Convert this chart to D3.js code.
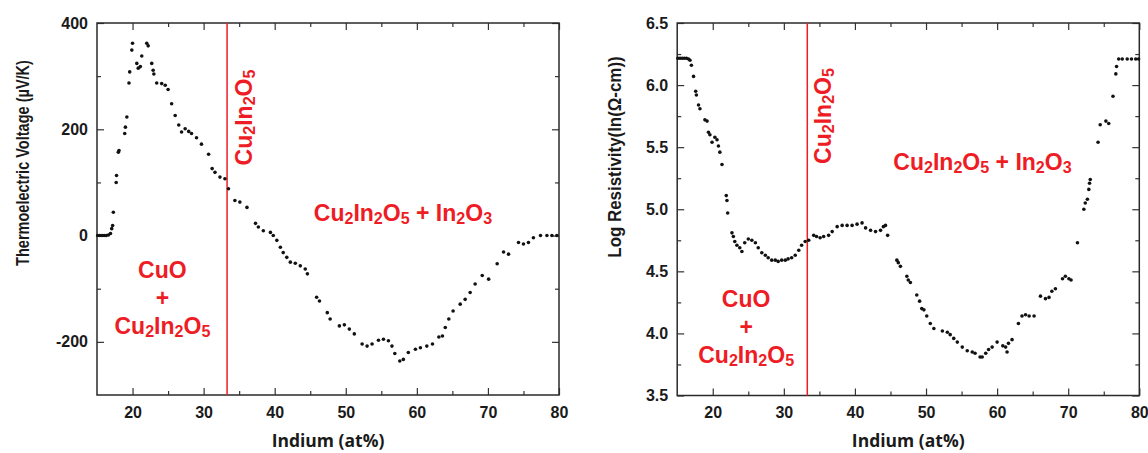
<!DOCTYPE html>
<html>
<head>
<meta charset="utf-8">
<script src="https://cdn.jsdelivr.net/npm/d3@7"></script>
<style>
  body { margin: 0; background: #fff; }
  svg { display: block; font-family: "Liberation Sans", Arial, sans-serif; }
  .tick text { font-weight: bold; font-size: 16px; fill: #1a1a1a; }
  .tick line { stroke: #333; stroke-width: 1.2; }
</style>
</head>
<body>
<svg id="chart" width="1148" height="453"></svg>
<script>
// thermoelectric voltage (left panel)
const thermoIndium = [15.1, 15.4, 15.7, 16.0, 16.3, 16.6, 16.9, 17.07, 17.2, 17.3, 17.7, 17.75, 18.0, 18.1,
  18.9, 19.0, 19.2, 19.5, 19.6, 19.9, 20.0, 20.6, 20.8, 21.1, 21.3, 22.0, 22.2, 22.7, 22.9, 23.0, 23.4,
  24.1, 24.6, 25.0, 25.5, 26.0, 26.5, 26.9, 27.4, 27.9, 28.3, 29.0, 29.7, 30.7, 31.2, 31.6, 32.3, 33.0,
  33.5, 34.4, 35.1, 36.1, 37.3, 37.7, 38.4, 39.4, 39.8, 40.3, 40.8, 41.2, 41.7, 42.2, 42.9, 43.6, 44.3,
  44.6, 45.9, 46.3, 47.4, 47.8, 49.1, 49.8, 50.5, 51.2, 52.3, 53.0, 53.7, 54.6, 55.3, 56.0, 56.5, 56.9,
  57.6, 58.1, 58.8, 59.8, 60.5, 61.4, 62.2, 63.1, 63.6, 64.0, 64.5, 65.1, 66.1, 66.8, 67.5, 68.2, 69.2,
  70.1, 71.3, 72.2, 72.9, 74.3, 75.0, 75.7, 76.4, 77.4, 78.3, 79.0, 79.7];
const thermoVoltage = [0, 0, 0, 0, 0, 1, 4, 13, 19, 44, 100, 113, 157, 160,
  192, 204, 223, 287, 308, 349, 362, 324, 315, 318, 338, 362, 357, 324, 311, 304, 287,
  286, 283, 275, 248, 226, 208, 195, 201, 196, 192, 184, 172, 153, 126, 119, 110, 107,
  88, 66, 63, 53, 23, 16, 9, 6, 0, -9, -22, -32, -41, -50, -52, -57, -63,
  -72, -116, -123, -145, -157, -170, -168, -176, -185, -204, -208, -204, -197, -195, -198, -208, -222,
  -236, -233, -220, -214, -211, -208, -204, -191, -189, -173, -157, -142, -129, -120, -107, -91, -75,
  -82, -53, -31, -35, -13, -16, -13, -4, 0, 0, 0, 0];

// log resistivity (right panel)
const resIndium = [15.1, 15.4, 15.7, 16.0, 16.3, 16.6, 16.8, 17.0, 17.3, 17.6, 17.7, 18.0, 18.2, 18.9,
  19.2, 19.4, 19.6, 19.9, 20.3, 20.6, 20.8, 21.0, 21.3, 21.9, 22.0, 22.1, 22.7, 22.9, 23.1, 23.4, 23.8,
  24.1, 24.5, 25.0, 25.5, 26.0, 26.4, 26.9, 27.4, 27.8, 28.3, 28.8, 29.2, 29.7, 30.2, 30.6, 31.1, 31.6,
  32.1, 32.5, 33.0, 33.5, 34.2, 34.6, 35.1, 35.6, 36.3, 36.8, 37.5, 38.2, 38.9, 39.6, 40.3, 41.0, 41.5,
  42.2, 42.9, 43.6, 44.0, 44.3, 44.6, 45.9, 46.1, 46.4, 47.3, 47.5, 47.8, 48.7, 49.1, 49.4, 49.7, 50.1,
  50.6, 51.1, 52.3, 53.0, 53.4, 53.9, 54.4, 55.1, 55.8, 56.5, 56.9, 57.6, 57.9, 58.4, 58.8, 59.3, 60.0,
  60.8, 61.2, 61.4, 61.6, 62.1, 63.0, 63.5, 64.0, 64.5, 65.2, 66.1, 66.8, 67.3, 67.7, 68.2, 69.2, 69.6,
  70.1, 70.4, 71.3, 72.2, 72.4, 72.7, 72.9, 73.0, 73.1, 74.2, 74.5, 75.3, 75.7, 76.3, 76.7, 76.8, 77.1,
  77.6, 78.3, 78.9, 79.5, 79.9];
const resLogRho = [6.216, 6.216, 6.216, 6.216, 6.216, 6.21, 6.2, 6.16, 6.07, 5.95, 5.92, 5.84, 5.81, 5.72,
  5.71, 5.62, 5.60, 5.54, 5.58, 5.56, 5.51, 5.46, 5.36, 5.11, 5.07, 4.97, 4.81, 4.78, 4.74, 4.71, 4.69,
  4.66, 4.73, 4.76, 4.75, 4.73, 4.69, 4.65, 4.63, 4.61, 4.59, 4.59, 4.58, 4.59, 4.59, 4.60, 4.61, 4.63,
  4.67, 4.71, 4.74, 4.75, 4.79, 4.78, 4.77, 4.78, 4.79, 4.82, 4.86, 4.87, 4.87, 4.87, 4.88, 4.89, 4.85,
  4.83, 4.82, 4.83, 4.86, 4.87, 4.79, 4.59, 4.57, 4.54, 4.46, 4.43, 4.41, 4.31, 4.26, 4.20, 4.19, 4.14,
  4.08, 4.04, 4.02, 4.01, 3.99, 3.96, 3.93, 3.89, 3.86, 3.85, 3.84, 3.81, 3.81, 3.84, 3.87, 3.89, 3.93,
  3.90, 3.89, 3.85, 3.92, 3.95, 4.08, 4.14, 4.15, 4.14, 4.14, 4.30, 4.28, 4.29, 4.34, 4.36, 4.44, 4.46,
  4.44, 4.43, 4.73, 5.00, 5.05, 5.08, 5.16, 5.21, 5.24, 5.54, 5.68, 5.71, 5.69, 5.91, 6.09, 6.15, 6.21,
  6.21, 6.21, 6.21, 6.21, 6.21];

const indiumTicks = [20, 30, 40, 50, 60, 70, 80];
const indiumMinor = [25, 35, 45, 55, 65, 75];
const thermoTicks = [-200, 0, 200, 400];
const thermoMinor = [-100, 100, 300];
const resTicks = [3.5, 4.0, 4.5, 5.0, 5.5, 6.0, 6.5];
const resMinor = [3.75, 4.25, 4.75, 5.25, 5.75, 6.25];
const phaseIndium = 33.3; // Cu2In2O5 composition

const red = "#ee1c24";
const svg = d3.select("#chart");
svg.append("rect").attr("width", 1148).attr("height", 453).attr("fill", "#fff");

// writes a formula with the digits as subscripts
function formula(sel, str, size) {
  const parts = str.split(/(\d)/).filter((p) => p !== "");
  let down = false;
  parts.forEach((p) => {
    const isNum = /^\d$/.test(p);
    const t = sel.append("tspan").text(p);
    if (isNum) {
      t.attr("font-size", size * 0.7).attr("dy", down ? 0 : 3);
      down = true;
    } else {
      t.attr("font-size", size).attr("dy", down ? -3 : 0);
      down = false;
    }
  });
  return sel;
}

function redText(g, str, x, y, anchor, rotate) {
  const t = g.append("text")
    .attr("x", x).attr("y", y)
    .attr("text-anchor", anchor)
    .attr("fill", red)
    .attr("font-weight", "bold");
  if (rotate) t.attr("transform", `rotate(-90, ${x}, ${y})`);
  return formula(t, str, 23);
}

function panel(o) {
  const w = o.x1 - o.x0, h = o.y1 - o.y0;
  const g = svg.append("g").attr("transform", `translate(${o.x0},${o.y0})`);
  const x = d3.scaleLinear().domain([15, 80]).range([0, w]);
  const y = d3.scaleLinear().domain(o.yDomain).range([h, 0]);

  const axes = [
    [d3.axisBottom(x).tickValues(indiumTicks).tickSize(-7).tickPadding(11.6), `translate(0,${h})`],
    [d3.axisBottom(x).tickValues(indiumMinor).tickSize(-4).tickFormat(""), `translate(0,${h})`],
    [d3.axisTop(x).tickValues(indiumTicks).tickSize(-7).tickFormat(""), null],
    [d3.axisTop(x).tickValues(indiumMinor).tickSize(-4).tickFormat(""), null],
    [d3.axisLeft(y).tickValues(o.yTicks).tickSize(-7).tickPadding(9).tickFormat(o.fmt), null],
    [d3.axisLeft(y).tickValues(o.yMinor).tickSize(-4).tickFormat(""), null],
    [d3.axisRight(y).tickValues(o.yTicks).tickSize(-7).tickFormat(""), `translate(${w},0)`],
    [d3.axisRight(y).tickValues(o.yMinor).tickSize(-4).tickFormat(""), `translate(${w},0)`],
  ];
  axes.forEach(([ax, tr]) => {
    const a = g.append("g").call(ax);
    if (tr) a.attr("transform", tr);
    a.select(".domain").remove();
    a.selectAll("text").attr("font-family", null).attr("font-size", null);
  });

  g.append("rect").attr("width", w).attr("height", h)
    .attr("fill", "none").attr("stroke", "#2a2a2a").attr("stroke-width", 1.5);

  g.append("line")
    .attr("x1", x(phaseIndium)).attr("x2", x(phaseIndium))
    .attr("y1", 0).attr("y2", h)
    .attr("stroke", red).attr("stroke-width", 1.5);

  g.selectAll("circle.pt")
    .data(o.xs.map((d, i) => [d, o.ys[i]]))
    .enter().append("circle")
    .attr("class", "pt")
    .attr("cx", (d) => x(d[0])).attr("cy", (d) => y(d[1]))
    .attr("r", 1.8).attr("fill", "#111");

  // annotations
  redText(g, "Cu2In2O5", x(o.vert[0]), y(o.vert[1]), "start", true);
  redText(g, "Cu2In2O5 + In2O3", x(o.mix[0]), y(o.mix[1]), "start", false);
  redText(g, "CuO", x(o.cuo[0]), y(o.cuo[1]), "middle", false);
  redText(g, "+", x(o.cuo[0]), y(o.cuo[2]), "middle", false);
  redText(g, "Cu2In2O5", x(o.cuo[0]), y(o.cuo[3]), "middle", false);

  // axis titles
  g.append("text")
    .attr("x", w / 2).attr("y", 447 - o.y0)
    .attr("text-anchor", "middle")
    .attr("font-family", "'Open Sans', sans-serif")
    .attr("font-weight", "bold").attr("font-size", 17.5)
    .attr("fill", "#1a1a1a")
    .text("Indium (at%)");

  // y title: bold face squeezed along its length, as in the source figure
  g.append("text")
    .attr("transform", `translate(${o.titleX - o.x0},${o.titleY - o.y0}) rotate(-90) scale(${o.titleSqueeze},1)`)
    .attr("text-anchor", "middle")
    .attr("font-weight", "bold").attr("font-size", 19)
    .attr("fill", "#1a1a1a")
    .text(o.title);
}

panel({
  x0: 97, x1: 559, y0: 23, y1: 395,
  yDomain: [-300, 400], yTicks: thermoTicks, yMinor: thermoMinor,
  fmt: (d) => String(d),
  xs: thermoIndium, ys: thermoVoltage,
  vert: [36.8, 132], mix: [45.5, 28], cuo: [24.2, -79, -132, -185],
  title: "Thermoelectric Voltage (\u00b5V/K)", titleX: 28.5, titleY: 163, titleSqueeze: 0.765,
});

panel({
  x0: 677.2, x1: 1139.3, y0: 23, y1: 395.5,
  yDomain: [3.5, 6.5], yTicks: resTicks, yMinor: resMinor,
  fmt: d3.format(".1f"),
  xs: resIndium, ys: resLogRho,
  vert: [36.66, 5.365], mix: [45.4, 5.316], cuo: [24.7, 4.216, 3.988, 3.760],
  title: "Log Resistivity(ln(\u03a9-cm))", titleX: 621, titleY: 157, titleSqueeze: 0.89,
});
</script>
</body>
</html>
